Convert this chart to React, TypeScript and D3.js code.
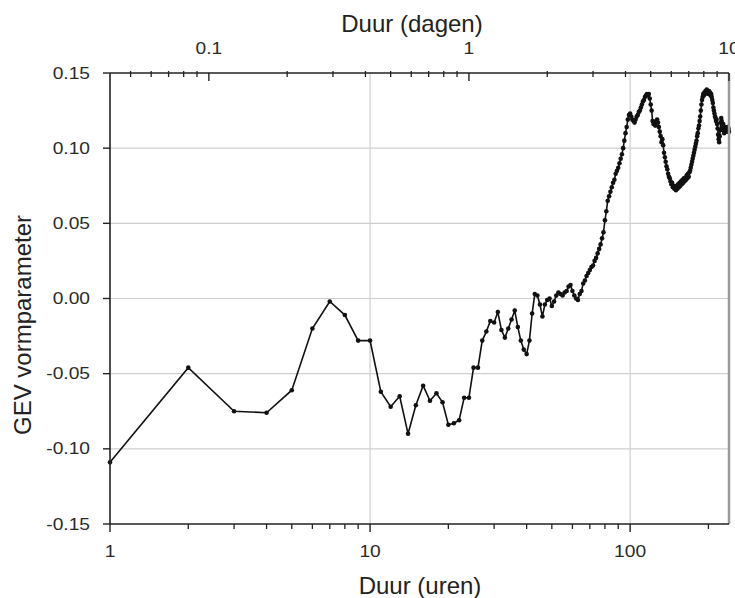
import React from "react";
import * as d3 from "d3";

const hoursValues: number[] = [
  -0.109, -0.046, -0.075, -0.076, -0.061, -0.020, -0.002, -0.011, -0.028, -0.028,
  -0.062, -0.072, -0.065, -0.090, -0.071, -0.058, -0.068, -0.063, -0.069, -0.084,
  -0.083, -0.081, -0.066, -0.066, -0.046, -0.046, -0.028, -0.022, -0.015, -0.016,
  -0.009, -0.021, -0.026, -0.020, -0.014, -0.008, -0.019, -0.028, -0.034, -0.037,
  -0.028, -0.010, 0.003, 0.002, -0.004, -0.012, -0.004, -0.001, 0.000, -0.005,
  -0.002, 0.002, 0.004, 0.003, 0.002, 0.004, 0.005, 0.008, 0.009, 0.005,
  0.002, 0.000, -0.001, 0.003, 0.005, 0.010, 0.012, 0.015, 0.017, 0.019,
  0.021, 0.022, 0.025, 0.027, 0.030, 0.033, 0.036, 0.040, 0.044, 0.052,
  0.058, 0.065, 0.068, 0.071, 0.074, 0.077, 0.079, 0.083, 0.085, 0.087,
  0.090, 0.093, 0.096, 0.100, 0.105, 0.110, 0.114, 0.119, 0.122, 0.123,
  0.121, 0.119, 0.118, 0.117, 0.119, 0.121, 0.122, 0.124, 0.125, 0.127,
  0.129, 0.131, 0.132, 0.134, 0.135, 0.136, 0.135, 0.136, 0.133, 0.129,
  0.125, 0.118, 0.116, 0.117, 0.115, 0.118, 0.119, 0.117, 0.114, 0.111,
  0.108, 0.104, 0.106, 0.102, 0.097, 0.094, 0.091, 0.088, 0.086, 0.083,
  0.081, 0.080, 0.078, 0.076, 0.077, 0.074, 0.075, 0.073, 0.074, 0.072,
  0.075, 0.073, 0.076, 0.074, 0.077, 0.075, 0.078, 0.076, 0.079, 0.077,
  0.080, 0.078, 0.080, 0.079, 0.082, 0.080, 0.083, 0.081, 0.084, 0.085,
  0.087, 0.089, 0.091, 0.093, 0.095, 0.097, 0.099, 0.101, 0.103, 0.105,
  0.108, 0.110, 0.113, 0.115, 0.118, 0.121, 0.125, 0.129, 0.132, 0.134,
  0.136, 0.135, 0.137, 0.136, 0.138, 0.137, 0.139, 0.137, 0.138, 0.136,
  0.138, 0.136, 0.137, 0.135, 0.136, 0.134, 0.132, 0.130, 0.127, 0.125,
  0.123, 0.121, 0.120, 0.118, 0.119, 0.116, 0.113, 0.109, 0.106, 0.104,
  0.108, 0.112, 0.117, 0.120, 0.118, 0.116, 0.114, 0.116, 0.112, 0.110,
  0.113, 0.111, 0.114, 0.112, 0.113, 0.111, 0.114, 0.112, 0.113, 0.111,
];
const hours: number[] = hoursValues.map((_, i) => i + 1);

const yTicks: number[] = [0.15, 0.1, 0.05, 0.0, -0.05, -0.1, -0.15];
const yGrid: number[] = [0.1, 0.05, 0.0, -0.05, -0.1];
const bottomMajor: number[] = [1, 10, 100];
const bottomMinor: number[] = [2, 3, 4, 5, 6, 7, 8, 9, 20, 30, 40, 50, 60, 70, 80, 90, 200];
const topMajor: number[] = [0.1, 1, 10];
const topMinor: number[] = [0.05, 0.06, 0.07, 0.08, 0.09, 0.2, 0.3, 0.4, 0.5, 0.6, 0.7, 0.8, 0.9, 2, 3, 4, 5, 6, 7, 8, 9];
const xGrid: number[] = [10, 100];

const W = 735;
const H = 598;
const L = 110;
const R = 729;
const T = 73;
const B = 524;
const SX = 1.2;

function Label(props: { x: number; y: number; anchor: string; size: number; text: string }) {
  return (
    <g transform={`translate(${props.x}, ${props.y}) scale(${SX}, 1)`}>
      <text x={0} y={0} dy="0.35em" textAnchor={props.anchor} fontSize={props.size} fill="#2a2a2a">
        {props.text}
      </text>
    </g>
  );
}

export default function App() {
  const x = d3.scaleLog().domain([1, 240]).range([L, R]);
  const xd = d3.scaleLog().domain([1 / 24, 10]).range([L, R]);
  const y = d3.scaleLinear().domain([-0.15, 0.15]).range([B, T]);
  const pts = hours.map((h, i) => [h, hoursValues[i]] as [number, number]);
  const line = d3
    .line<[number, number]>()
    .x((d) => x(d[0]))
    .y((d) => y(d[1]));
  const font = "'Liberation Sans', Arial, sans-serif";
  const fmtY = (v: number) => (v < 0 ? "-" : "") + Math.abs(v).toFixed(2);
  return (
    <svg
      width={W}
      height={H}
      style={{ position: "absolute", left: 0, top: 0, background: "#fff" }}
      fontFamily={font}
    >
      <rect x={0} y={0} width={W} height={H} fill="#fff" />
      {yGrid.map((v) => (
        <line key={"gy" + v} x1={L} x2={R} y1={y(v)} y2={y(v)} stroke="#cfcfcf" strokeWidth={1.2} />
      ))}
      {xGrid.map((v) => (
        <line key={"gx" + v} x1={x(v)} x2={x(v)} y1={T} y2={B} stroke="#cfcfcf" strokeWidth={1.2} />
      ))}
      <path d={line(pts) || ""} fill="none" stroke="#111" strokeWidth={1.6} />
      {pts.map((d, i) => (
        <circle key={"p" + i} cx={x(d[0])} cy={y(d[1])} r={2.3} fill="#111" />
      ))}
      {/* frame */}
      <line x1={R} x2={R} y1={T} y2={B} stroke="#9a9a9a" strokeWidth={2.5} />
      <line x1={L} x2={R} y1={T} y2={T} stroke="#222" strokeWidth={1.6} />
      <line x1={L} x2={R} y1={B} y2={B} stroke="#222" strokeWidth={1.6} />
      <line x1={L} x2={L} y1={T} y2={B} stroke="#222" strokeWidth={1.6} />
      {/* y ticks */}
      {yTicks.map((v) => (
        <g key={"yt" + v}>
          <line x1={L - 7} x2={L} y1={y(v)} y2={y(v)} stroke="#222" strokeWidth={1.4} />
          <Label x={L - 20} y={y(v)} anchor="end" size={16} text={fmtY(v)} />
        </g>
      ))}
      {/* bottom ticks */}
      {bottomMajor.map((v) => (
        <g key={"bm" + v}>
          <line x1={x(v)} x2={x(v)} y1={B} y2={B + 8} stroke="#222" strokeWidth={1.4} />
          <Label x={x(v)} y={551} anchor="middle" size={16} text={String(v)} />
        </g>
      ))}
      {bottomMinor.map((v) => (
        <line key={"bn" + v} x1={x(v)} x2={x(v)} y1={B} y2={B + 5} stroke="#222" strokeWidth={1.3} />
      ))}
      {/* top ticks */}
      {topMajor.map((v) => (
        <g key={"tm" + v}>
          <line x1={xd(v)} x2={xd(v)} y1={T} y2={T + 8} stroke="#222" strokeWidth={1.4} />
          <Label x={xd(v)} y={48} anchor="middle" size={16} text={String(v)} />
        </g>
      ))}
      {topMinor.map((v) => (
        <line key={"tn" + v} x1={xd(v)} x2={xd(v)} y1={T - 2} y2={T + 4} stroke="#222" strokeWidth={1.3} />
      ))}
      {/* titles */}
      <text x={412} y={24} dy="0.35em" textAnchor="middle" fontSize={24} fill="#222">
        Duur (dagen)
      </text>
      <text x={420} y={586} dy="0.35em" textAnchor="middle" fontSize={24} fill="#222">
        Duur (uren)
      </text>
      <text
        transform={`translate(23, 325) rotate(-90)`}
        dy="0.35em"
        textAnchor="middle"
        fontSize={24}
        fill="#222"
      >
        GEV vormparameter
      </text>
    </svg>
  );
}
